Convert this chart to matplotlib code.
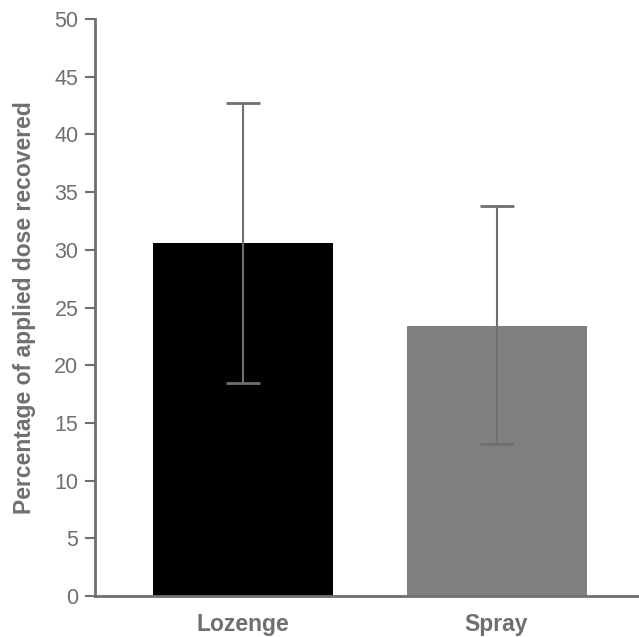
import numpy as np
import matplotlib.pyplot as plt

categories = ["Lozenge", "Spray"]
means = [30.6, 23.4]
err_low = [18.5, 13.2]
err_high = [42.7, 33.8]
bar_colors = ["#000000", "#808080"]

GRAY = "#6f6f6f"

plt.rcParams["font.family"] = ["Liberation Sans", "DejaVu Sans"]

fig = plt.figure(figsize=(6.39, 6.37), dpi=100)
ax = fig.add_axes([95 / 639, 41 / 637, 544 / 639, 577 / 637])

x = np.arange(len(categories))
means_arr = np.array(means)
yerr = np.vstack([means_arr - np.array(err_low), np.array(err_high) - means_arr])

ax.bar(x, means, width=0.71, color=bar_colors, zorder=2)
ax.errorbar(x, means, yerr=yerr, fmt="none", ecolor=GRAY, elinewidth=1.5,
            capsize=12, capthick=2, zorder=3)

ax.set_xlim(-0.584, 1.562)
ax.set_ylim(0, 50)
ax.set_yticks(np.arange(0, 51, 5))
ax.set_xticks(x)
ax.set_xticklabels(categories, fontsize=16.5, fontweight="bold", color=GRAY)
ax.tick_params(axis="x", length=0, pad=12)
ax.tick_params(axis="y", length=7, width=1.5, color=GRAY, labelcolor=GRAY,
               labelsize=15.5, pad=5)
ax.set_ylabel("Percentage of applied dose recovered", fontsize=16.5,
              fontweight="bold", color=GRAY, labelpad=13)

for side in ["top", "right"]:
    ax.spines[side].set_visible(False)
for side in ["left", "bottom"]:
    ax.spines[side].set_color(GRAY)
    ax.spines[side].set_linewidth(2)

fig.savefig("out.png", dpi=100)
